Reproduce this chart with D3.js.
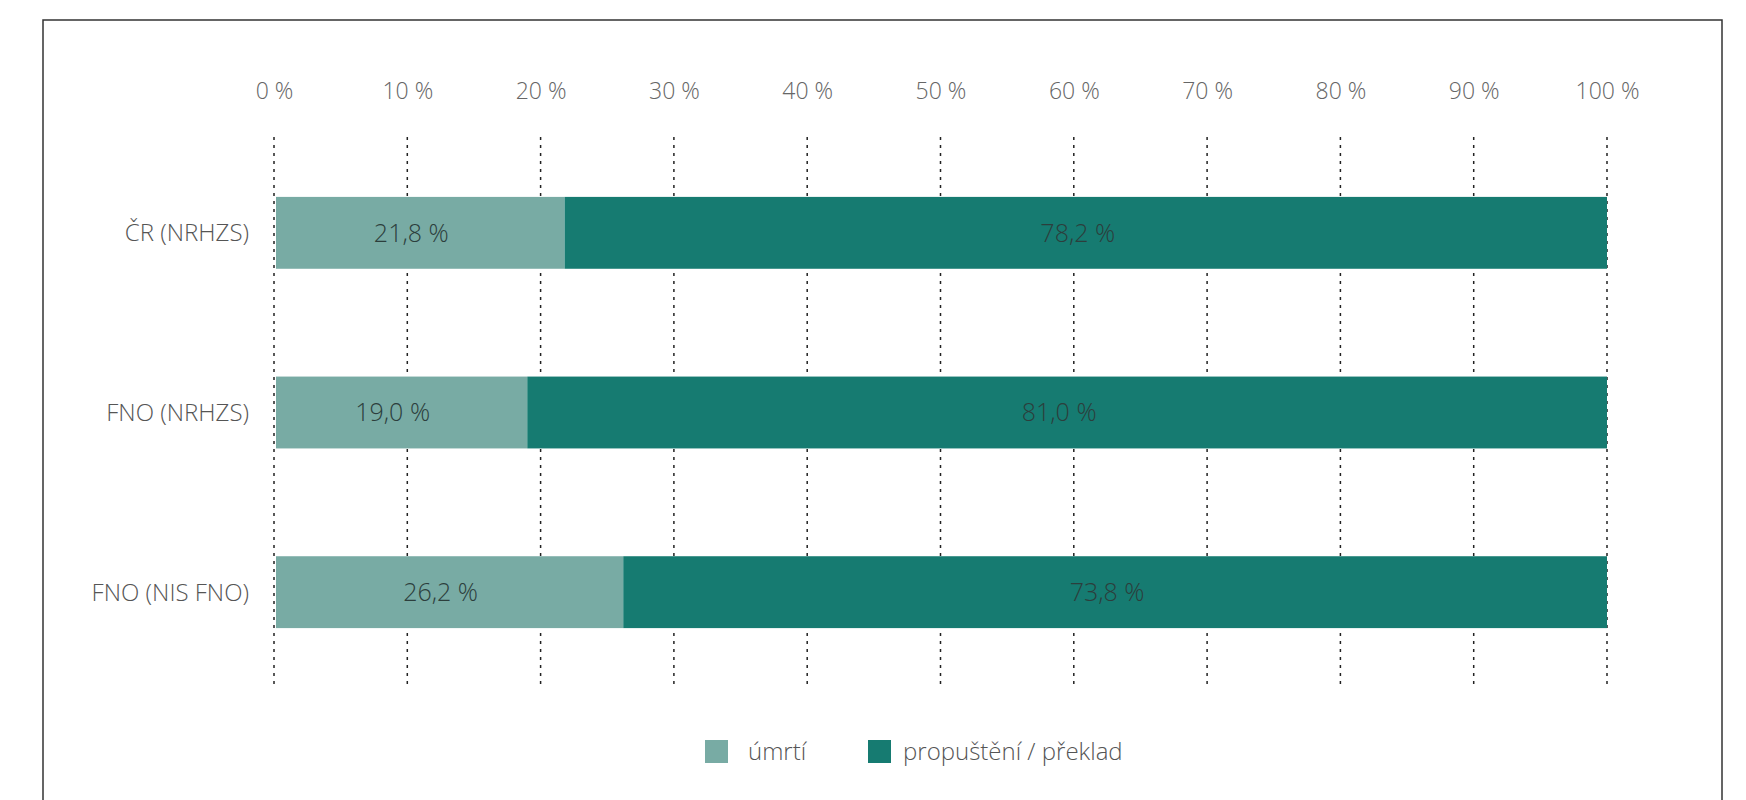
<!DOCTYPE html>
<html>
<head>
<meta charset="utf-8">
<script src="https://cdn.jsdelivr.net/npm/d3@7"></script>
<style>
  html, body { margin: 0; padding: 0; background: #fff; }
  svg { display: block; font-family: "Open Sans", "Noto Sans", sans-serif; font-weight: 300; }
</style>
</head>
<body>
<svg id="chart" width="1746" height="800"></svg>
<script>
const categories = ["ČR (NRHZS)", "FNO (NRHZS)", "FNO (NIS FNO)"];
const umrti = [21.8, 19.0, 26.2];
const propusteni = [78.2, 81.0, 73.8];
const seriesNames = ["úmrtí", "propuštění / překlad"];
const tickValues = [0, 10, 20, 30, 40, 50, 60, 70, 80, 90, 100];

const colors = ["#78aba4", "#167b71"];
const fmt = v => d3.format(".1f")(v).replace(".", ",") + " %";

const svg = d3.select("#chart");

// frame
svg.append("rect")
  .attr("x", 43).attr("y", 20)
  .attr("width", 1679).attr("height", 800)
  .attr("fill", "none")
  .attr("stroke", "#333")
  .attr("stroke-width", 1.5);

const x = d3.scaleLinear().domain([0, 100]).range([274, 1607]);
const y = d3.scaleBand()
  .domain(categories)
  .range([143, 682])
  .paddingInner(0.6)
  .paddingOuter(0.3);

// dotted gridlines
svg.append("g")
  .selectAll("line")
  .data(tickValues)
  .join("line")
  .attr("x1", d => x(d)).attr("x2", d => x(d))
  .attr("y1", 137).attr("y2", 684)
  .attr("stroke", "#222")
  .attr("stroke-width", 1.5)
  .attr("stroke-dasharray", "3,5");

// top tick labels
const axis = svg.append("g")
  .attr("transform", "translate(0,99)")
  .call(d3.axisTop(x).tickValues(tickValues).tickSize(0).tickPadding(0).tickFormat(d => d + " %"))
  .attr("font-family", null)
  .attr("font-size", null);
axis.select(".domain").remove();
axis.selectAll("text")
  .attr("font-size", 23)
  .attr("fill", "#666");

const rows = categories.map((c, i) => ({ cat: c, vals: [umrti[i], propusteni[i]] }));

const row = svg.append("g")
  .selectAll("g")
  .data(rows)
  .join("g");

row.each(function(d) {
  const g = d3.select(this);
  let acc = 0;
  d.vals.forEach((v, j) => {
    const x0 = acc, x1 = acc + v;
    const left = j === 0 ? x(x0) + 2 : x(x0);
    g.append("rect")
      .attr("x", left)
      .attr("y", y(d.cat))
      .attr("width", x(x1) - left)
      .attr("height", y.bandwidth())
      .attr("fill", colors[j]);
    g.append("text")
      .attr("x", (x(x0) + x(x1)) / 2 - 8)
      .attr("y", y(d.cat) + y.bandwidth() / 2)
      .attr("dy", "0.35em")
      .attr("text-anchor", "middle")
      .attr("font-size", 25)
      .attr("fill", "#2c3e3c")
      .text(fmt(v));
    acc = x1;
  });
  g.append("text")
    .attr("x", 249)
    .attr("y", y(d.cat) + y.bandwidth() / 2)
    .attr("dy", "0.35em")
    .attr("text-anchor", "end")
    .attr("font-size", 24)
    .attr("fill", "#555")
    .text(d.cat);
});

// legend
const legendX = [705, 868];
const legend = svg.append("g")
  .selectAll("g")
  .data(seriesNames)
  .join("g")
  .attr("transform", (d, i) => `translate(${legendX[i]},740)`);
legend.append("rect")
  .attr("width", 23).attr("height", 23)
  .attr("fill", (d, i) => colors[i]);
legend.append("text")
  .attr("x", (d, i) => i === 0 ? 43 : 35)
  .attr("y", 12)
  .attr("dy", "0.35em")
  .attr("font-size", 24)
  .attr("fill", "#555")
  .text(d => d);
</script>
</body>
</html>
